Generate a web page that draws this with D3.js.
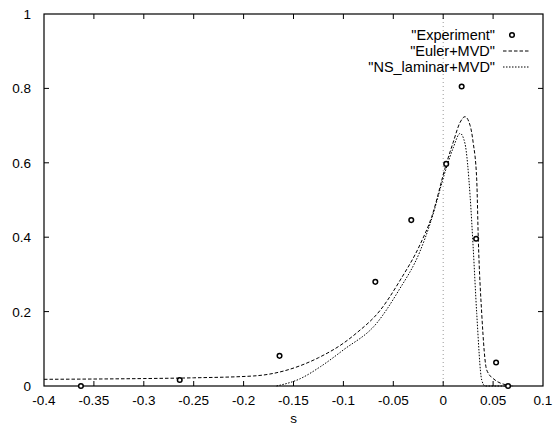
<!DOCTYPE html>
<html><head><meta charset="utf-8">
<script src="https://cdn.jsdelivr.net/npm/d3@7"></script>
<style>
html,body{margin:0;padding:0;background:#fff;}
svg{display:block;font-family:"Liberation Sans",Arial,Helvetica,sans-serif;}
</style></head>
<body><svg id="chart" width="556" height="426"></svg>
<script>
const xTicks = [-0.4,-0.35,-0.3,-0.25,-0.2,-0.15,-0.1,-0.05,0,0.05,0.1];
const xTickLabels = ["-0.4","-0.35","-0.3","-0.25","-0.2","-0.15","-0.1","-0.05","0","0.05","0.1"];
const yTicks = [0,0.2,0.4,0.6,0.8,1];
const yTickLabels = ["0","0.2","0.4","0.6","0.8","1"];
const seriesNames = ["\"Experiment\"","\"Euler+MVD\"","\"NS_laminar+MVD\""];

const expX = [-0.363,-0.264,-0.164,-0.068,-0.032,0.003,0.0185,0.033,0.053,0.065];
const expY = [0,0.016,0.081,0.28,0.446,0.597,0.805,0.396,0.063,0];

const eulerX = [-0.4,-0.3,-0.25,-0.19,-0.125,-0.1,-0.087,-0.063,-0.043,-0.0234,-0.0115,0.003,0.01,0.0168,0.0218,0.027,0.030,0.0336,0.0352,0.0386,0.0436,0.052,0.065,0.07];
const eulerY = [0.018,0.02,0.022,0.027,0.076,0.115,0.142,0.204,0.285,0.379,0.455,0.596,0.655,0.708,0.724,0.70,0.655,0.554,0.392,0.195,0.043,0.016,0.002,0];

const nsX = [-0.167,-0.143,-0.123,-0.1,-0.0666,-0.045,-0.0234,-0.013,0.003,0.01,0.017,0.0218,0.027,0.030,0.0336,0.0386,0.042,0.07];
const nsY = [0,0.02,0.052,0.097,0.169,0.255,0.361,0.437,0.585,0.64,0.679,0.652,0.509,0.374,0.195,0.016,0,0];

const svg = d3.select("#chart");
const L = 44, R = 543, T = 14, B = 386;
const x = d3.scaleLinear().domain([-0.4,0.1]).range([L,R]);
const y = d3.scaleLinear().domain([0,1]).range([B,T]);
const fs = 13.5, lfs = 14.5;

// zero axis
svg.append("line").attr("x1",x(0)).attr("x2",x(0)).attr("y1",T).attr("y2",B)
  .attr("stroke","#999").attr("stroke-width",1).attr("stroke-dasharray","1,3");

// frame
svg.append("rect").attr("x",L).attr("y",T).attr("width",R-L).attr("height",B-T)
  .attr("fill","none").attr("stroke","#000").attr("stroke-width",1.2);

// ticks (inward, mirrored)
const tl = 5;
xTicks.forEach((v,i)=>{
  if(i>0 && i<xTicks.length-1){
    svg.append("line").attr("x1",x(v)).attr("x2",x(v)).attr("y1",B).attr("y2",B-tl).attr("stroke","#000");
    svg.append("line").attr("x1",x(v)).attr("x2",x(v)).attr("y1",T).attr("y2",T+tl).attr("stroke","#000");
  }
  svg.append("text").attr("x",x(v)).attr("y",B+19).attr("text-anchor","middle")
    .attr("font-size",fs).text(xTickLabels[i]);
});
yTicks.forEach((v,i)=>{
  if(i>0 && i<yTicks.length-1){
    svg.append("line").attr("x1",L).attr("x2",L+tl).attr("y1",y(v)).attr("y2",y(v)).attr("stroke","#000");
    svg.append("line").attr("x1",R).attr("x2",R-tl).attr("y1",y(v)).attr("y2",y(v)).attr("stroke","#000");
  }
  svg.append("text").attr("x",L-13).attr("y",y(v)+5).attr("text-anchor","end")
    .attr("font-size",fs).text(yTickLabels[i]);
});
svg.append("text").attr("x",x(-0.15)).attr("y",423).attr("text-anchor","middle")
  .attr("font-size",fs).text("s");

const line = d3.line().x(d=>x(d[0])).y(d=>y(d[1])).curve(d3.curveMonotoneX);
const eulerData = eulerX.map((v,i)=>[v,eulerY[i]]);
const nsData = nsX.map((v,i)=>[v,nsY[i]]);
svg.append("path").datum(eulerData).attr("d",line).attr("fill","none")
  .attr("stroke","#000").attr("stroke-width",1).attr("stroke-dasharray","3.5,2");
svg.append("path").datum(nsData).attr("d",line).attr("fill","none")
  .attr("stroke","#000").attr("stroke-width",1).attr("stroke-dasharray","1.5,1.5");

const expData = expX.map((v,i)=>[v,expY[i]]);
svg.selectAll("circle.exp").data(expData).enter().append("circle").attr("class","exp")
  .attr("cx",d=>x(d[0])).attr("cy",d=>y(d[1])).attr("r",2.3)
  .attr("fill","#fff").attr("stroke","#000").attr("stroke-width",1.5);

// legend
const lx = 495, ly = [40,56,72];
seriesNames.forEach((n,i)=>{
  svg.append("text").attr("x",lx).attr("y",ly[i]).attr("text-anchor","end").attr("font-size",lfs).text(n);
});
svg.append("circle").attr("cx",512).attr("cy",ly[0]-5).attr("r",2.3)
  .attr("fill","#fff").attr("stroke","#000").attr("stroke-width",1.5);
svg.append("line").attr("x1",503).attr("x2",530).attr("y1",ly[1]-5).attr("y2",ly[1]-5)
  .attr("stroke","#000").attr("stroke-dasharray","3.5,2");
svg.append("line").attr("x1",503).attr("x2",530).attr("y1",ly[2]-5).attr("y2",ly[2]-5)
  .attr("stroke","#000").attr("stroke-dasharray","1.5,1.5");
</script></body></html>
